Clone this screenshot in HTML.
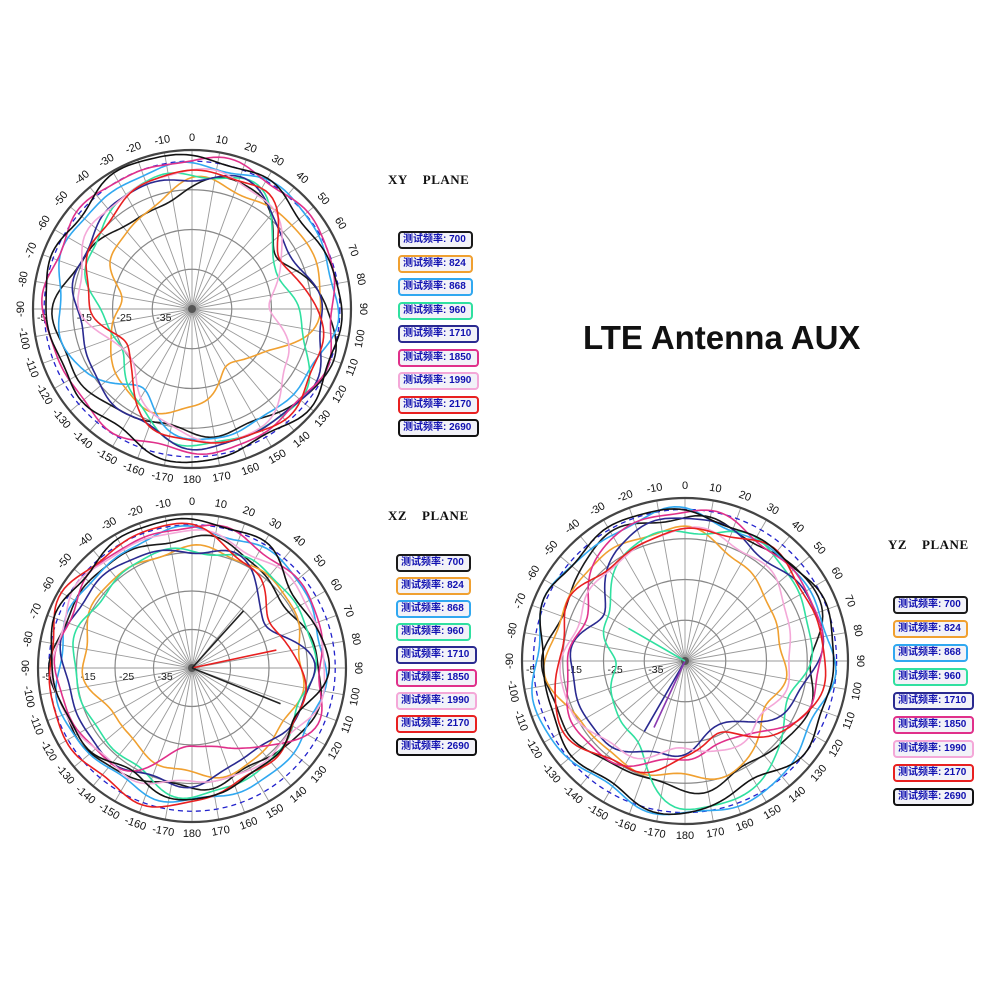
<!DOCTYPE html>
<html><head><meta charset="utf-8"><style>
html,body{margin:0;padding:0;background:#fff;}
#wrap{position:relative;width:1000px;height:1000px;overflow:hidden;background:#fff;}
.ttl{position:absolute;font-family:"Liberation Serif",serif;font-weight:bold;font-size:13px;color:#111;letter-spacing:0.5px;}
.big{position:absolute;left:583px;top:319px;font-family:"Liberation Sans",sans-serif;font-weight:bold;font-size:33px;color:#111;}
.lg{position:absolute;height:14px;border:2px solid #333;border-radius:4px;background:#f2f2f8;font-family:"Liberation Sans","Noto Sans CJK SC",sans-serif;font-size:10px;font-weight:bold;color:#1010b0;line-height:14px;padding-left:3px;box-sizing:content-box;white-space:nowrap;}
svg{position:absolute;left:0;top:0;}
</style></head><body><div id="wrap">
<svg id="s" width="1000" height="1000" xmlns="http://www.w3.org/2000/svg"></svg>
<div class="ttl" style="left:388px;top:172px">XY&nbsp;&nbsp;&nbsp;&nbsp;PLANE</div>
<div class="ttl" style="left:388px;top:508px">XZ&nbsp;&nbsp;&nbsp;&nbsp;PLANE</div>
<div class="ttl" style="left:888px;top:537px">YZ&nbsp;&nbsp;&nbsp;&nbsp;PLANE</div>
<div class="big">LTE Antenna AUX</div>
<div id="legs"></div>
</div>
<script>
var NS="http://www.w3.org/2000/svg",S=document.getElementById('s');
function el(t,a,txt){var e=document.createElementNS(NS,t);for(var k in a)e.setAttribute(k,a[k]);if(txt!==undefined)e.textContent=txt;S.appendChild(e);return e;}
var cols=['#1a1a1a','#f0a030','#30a8f0','#30e0a0','#2a2a90','#e0308a','#f4a8d8','#e82020','#111'];
var freqs=['700','824','868','960','1710','1850','1990','2170','2690'];
function plot(cx,cy,R,data,extra){
  var g=R/4;
  for(var a=0;a<360;a+=10){var t=a*Math.PI/180;el('line',{x1:cx,y1:cy,x2:cx+R*Math.sin(t),y2:cy-R*Math.cos(t),stroke:'#999','stroke-width':0.9});}
  for(var k=1;k<=3;k++)el('circle',{cx:cx,cy:cy,r:g*k,fill:'none',stroke:'#888','stroke-width':1.2});
  el('circle',{cx:cx,cy:cy,r:R*0.93,fill:'none',stroke:'#22c','stroke-width':1.3,'stroke-dasharray':'5,4'});
  el('circle',{cx:cx,cy:cy,r:R,fill:'none',stroke:'#444','stroke-width':2.2});
  el('circle',{cx:cx,cy:cy,r:4,fill:'#555'});
  ['-35','-25','-15','-5'].forEach(function(s,i){el('text',{x:cx-g*(i+1)+4,y:cy+12,'font-family':'Liberation Sans,sans-serif','font-size':10.5,fill:'#222'},s);});
  for(var a=-170;a<=180;a+=10){var t=a*Math.PI/180,rr=R+12;var x=cx+rr*Math.sin(t),y=cy-rr*Math.cos(t);
    var rot=Math.abs(a)<=90?a:(a>0?a-180:a+180);
    el('text',{x:x,y:y,'font-family':'Liberation Sans,sans-serif','font-size':11,fill:'#111','text-anchor':'middle','dominant-baseline':'middle',transform:'rotate('+rot+' '+x+' '+y+')'},String(a));}
  data.forEach(function(v,ci){
    var n=v.length,d='';
    for(var i=0;i<=360;i+=2){var p=i/30,j=Math.floor(p)%n,f=p-Math.floor(p);
      var p0=v[(j-1+n)%n],p1=v[j],p2=v[(j+1)%n],p3=v[(j+2)%n];
      var r=0.5*((2*p1)+(-p0+p2)*f+(2*p0-5*p1+4*p2-p3)*f*f+(-p0+3*p1-3*p2+p3)*f*f*f);
      var t=i*Math.PI/180;r+=0.018*Math.sin(7*t+ci*1.3)+0.012*Math.sin(11*t+ci);
      r=r*R;d+=(i?'L':'M')+(cx+r*Math.sin(t)).toFixed(1)+' '+(cy-r*Math.cos(t)).toFixed(1);}
    el('path',{d:d+'Z',fill:'none',stroke:cols[ci],'stroke-width':1.6});
  });
  (extra||[]).forEach(function(e){var t=e[1]*Math.PI/180;el('line',{x1:cx,y1:cy,x2:cx+e[2]*R*Math.sin(t),y2:cy-e[2]*R*Math.cos(t),stroke:e[0],'stroke-width':1.6});});
}
plot(192,309,159,[
[0.77,0.85,0.62,0.88,0.92,0.82,0.78,0.76,0.85,0.85,0.75,0.65],
[0.8,0.8,0.82,0.82,0.55,0.42,0.64,0.67,0.6,0.45,0.58,0.66],
[0.9,0.93,0.92,0.9,0.85,0.8,0.84,0.6,0.78,0.85,0.88,0.9],
[0.85,0.85,0.6,0.65,0.85,0.87,0.85,0.7,0.5,0.6,0.73,0.83],
[0.83,0.85,0.7,0.82,0.88,0.88,0.86,0.78,0.73,0.72,0.78,0.82],
[0.94,0.95,0.93,0.9,0.9,0.9,0.9,0.9,0.9,0.92,0.93,0.93],
[0.86,0.85,0.65,0.5,0.7,0.85,0.82,0.62,0.5,0.7,0.78,0.84],
[0.86,0.87,0.65,0.78,0.88,0.88,0.84,0.7,0.45,0.65,0.72,0.82],
[0.97,0.92,0.9,0.93,0.95,0.93,0.96,0.9,0.88,0.93,0.92,0.97]]);
plot(192,668,154,[
[0.85,0.8,0.72,0.85,0.82,0.75,0.78,0.8,0.88,0.9,0.88,0.85],
[0.77,0.78,0.75,0.72,0.7,0.72,0.7,0.62,0.6,0.7,0.75,0.77],
[0.9,0.9,0.88,0.85,0.86,0.85,0.87,0.85,0.88,0.88,0.86,0.88],
[0.77,0.78,0.8,0.78,0.75,0.8,0.83,0.75,0.72,0.78,0.75,0.77],
[0.77,0.75,0.55,0.8,0.72,0.68,0.75,0.78,0.8,0.83,0.85,0.8],
[0.92,0.9,0.88,0.85,0.85,0.6,0.5,0.75,0.85,0.87,0.88,0.9],
[0.88,0.85,0.85,0.87,0.8,0.75,0.75,0.8,0.85,0.9,0.9,0.9],
[0.92,0.75,0.6,0.7,0.78,0.78,0.88,0.93,0.93,0.93,0.95,0.93],
[0.97,0.92,0.82,0.88,0.75,0.8,0.85,0.8,0.85,0.92,0.93,0.95]],
[['#e82020',78,0.56],['#222',42,0.5],['#222',112,0.62]]);
plot(685,661,163,[
[0.88,0.85,0.9,0.8,0.8,0.75,0.8,0.75,0.85,0.85,0.82,0.9],
[0.8,0.7,0.6,0.62,0.58,0.72,0.72,0.72,0.75,0.85,0.8,0.82],
[0.92,0.85,0.88,0.9,0.88,0.93,0.95,0.9,0.95,0.93,0.92,0.9],
[0.8,0.85,0.82,0.75,0.7,0.88,0.9,0.6,0.5,0.45,0.55,0.75],
[0.9,0.8,0.85,0.82,0.65,0.45,0.55,0.65,0.7,0.7,0.6,0.8],
[0.92,0.88,0.85,0.85,0.75,0.55,0.6,0.72,0.8,0.7,0.7,0.88],
[0.8,0.78,0.7,0.65,0.6,0.6,0.55,0.65,0.75,0.75,0.7,0.75],
[0.8,0.85,0.85,0.85,0.8,0.5,0.6,0.75,0.85,0.78,0.78,0.75],
[0.93,0.85,0.93,0.9,0.92,0.85,0.93,0.9,0.88,0.88,0.93,0.93]],
[['#2a2a90',-150,0.5],['#8a3ab0',-155,0.45],['#30e0a0',-60,0.4]]);
var L=document.getElementById('legs'),h='';
[[398,231,23.5],[396,554,23],[893,596,24]].forEach(function(q){
  freqs.forEach(function(f,i){var w=f.length>3?74:68;
    h+='<div class="lg" style="left:'+q[0]+'px;top:'+(q[1]+i*q[2]).toFixed(0)+'px;width:'+w+'px;border-color:'+cols[i]+'">测试频率: '+f+'</div>';});
});
L.innerHTML=h;
</script>
</body></html>
